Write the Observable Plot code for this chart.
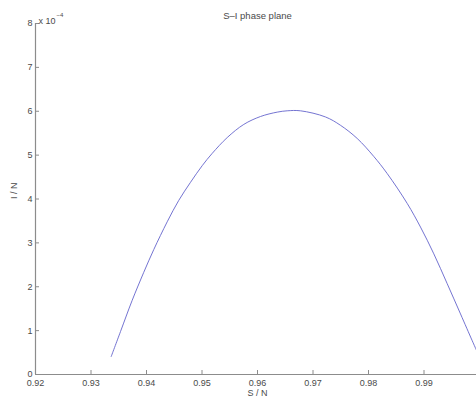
<!DOCTYPE html>
<html>
<head>
<meta charset="utf-8">
<script src="https://cdn.jsdelivr.net/npm/d3@7"></script>
<script src="https://cdn.jsdelivr.net/npm/@observablehq/plot@0.6"></script>
<style>
  body { margin: 0; background: #fff; overflow: hidden; }
  #chart svg { display: block; overflow: hidden; }
</style>
</head>
<body>
<div id="chart"></div>
<script>
// S/N values
const sValues = [0.93364, 0.93532, 0.93742, 0.93951, 0.94132, 0.94373, 0.94582, 0.94793, 0.95004, 0.95184,
  0.95454, 0.95753, 0.96054, 0.96355, 0.96535, 0.96775, 0.97225, 0.97495, 0.97796, 0.98095,
  0.98337, 0.98697, 0.98937, 0.99177, 0.99418, 0.99658, 0.99869, 0.99946];
// I/N values (units of 1e-4)
const iValues = [0.41, 0.98, 1.69, 2.33, 2.85, 3.48, 3.97, 4.38, 4.76, 5.04,
  5.40, 5.70, 5.88, 5.98, 6.01, 6.01, 5.87, 5.68, 5.38, 4.97,
  4.58, 3.90, 3.36, 2.75, 2.07, 1.38, 0.77, 0.55];
const xTicks = [0.92, 0.93, 0.94, 0.95, 0.96, 0.97, 0.98, 0.99];
const yTicks = [0, 1, 2, 3, 4, 5, 6, 7, 8];

const data = sValues.map((s, k) => ({s, i: iValues[k]}));
const font = "Liberation Sans, Arial, Helvetica, sans-serif";
const textColor = "#4a4a4a";
const axisColor = "#8c8c8c";

const chart = Plot.plot({
  width: 476,
  height: 400,
  marginLeft: 35,
  marginRight: -3,
  marginTop: 23,
  marginBottom: 26,
  style: {fontFamily: font, fontSize: "9px", color: textColor, background: "#fff"},
  x: {domain: [0.92, 1.0]},
  y: {domain: [0, 8]},
  marks: [
    Plot.ruleY([0], {stroke: axisColor, strokeWidth: 1.2}),
    Plot.ruleX([0.92], {stroke: axisColor, strokeWidth: 1.2}),
    Plot.axisX({ticks: xTicks, tickSize: -4, tickPadding: 9, stroke: axisColor, fill: textColor, label: null,
      tickFormat: d => d.toFixed(2)}),
    Plot.axisY({ticks: yTicks, tickSize: -4, tickPadding: 7, stroke: axisColor, fill: textColor, label: null,
      tickFormat: d => String(d)}),
    Plot.line(data, {x: "s", y: "i", stroke: "#6464cc", strokeWidth: 0.9, curve: "catmull-rom"}),
    Plot.text(["S–I phase plane"], {frameAnchor: "top", dy: -11, fontSize: 9.5, fill: textColor}),
    Plot.text(["S / N"], {frameAnchor: "bottom", dy: 21, fontSize: 9, fill: textColor}),
    Plot.text(["I / N"], {frameAnchor: "left", dx: -21, rotate: -90, fontSize: 9, fill: textColor}),
    Plot.text(["x 10"], {frameAnchor: "top-left", dx: 3, dy: -6, textAnchor: "start", fontSize: 9, fill: textColor}),
    Plot.text(["−4"], {frameAnchor: "top-left", dx: 21, dy: -11, textAnchor: "start", fontSize: 6, fill: textColor})
  ]
});
document.getElementById("chart").appendChild(chart);
</script>
</body>
</html>
